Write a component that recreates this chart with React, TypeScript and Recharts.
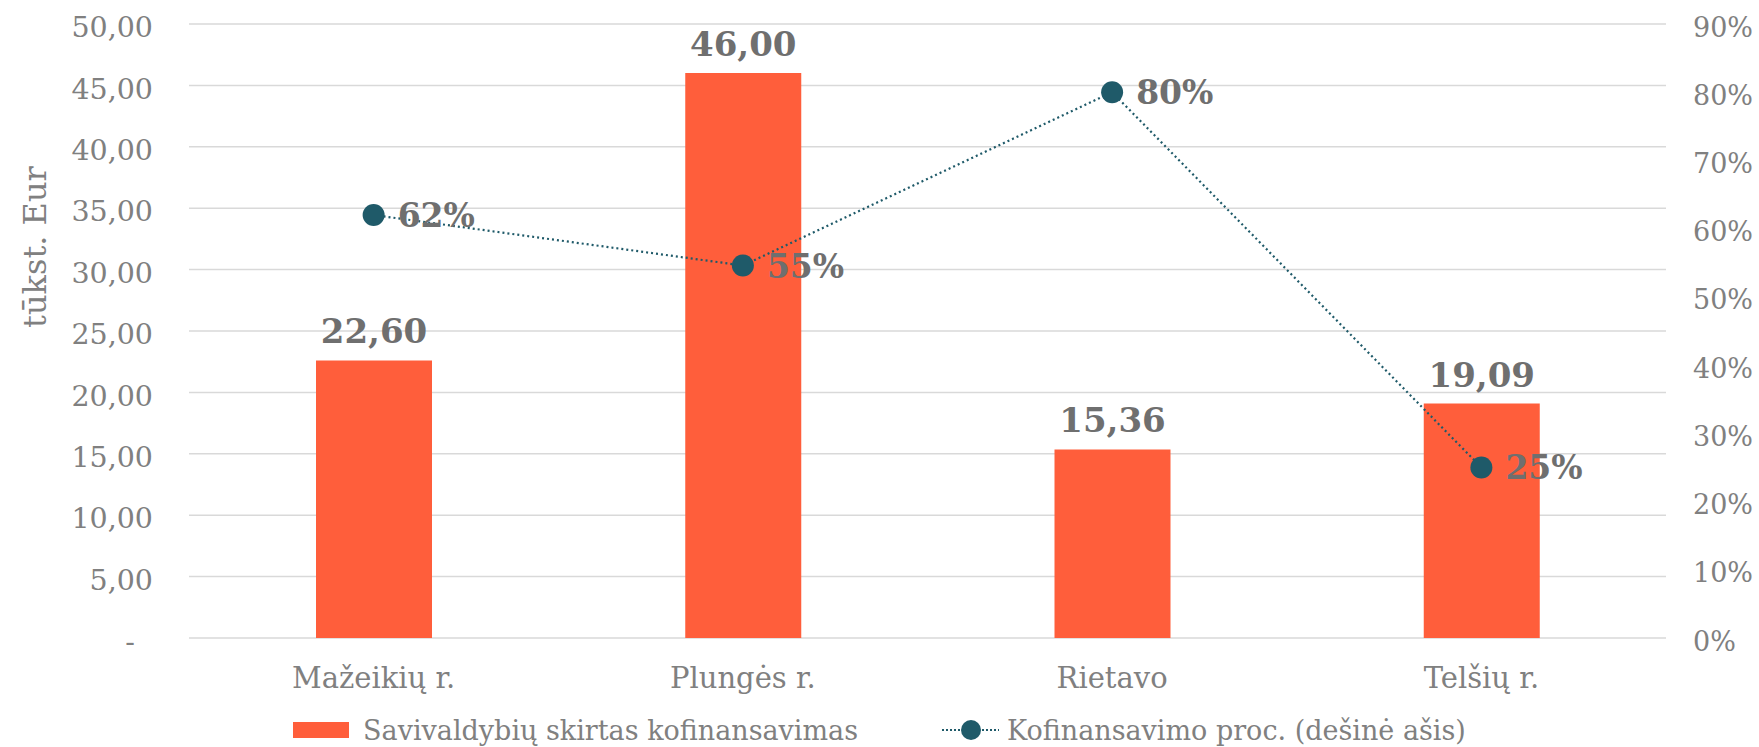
import React from 'react';
import {
  ComposedChart,
  Bar,
  Line,
  XAxis,
  YAxis,
  CartesianGrid,
  Legend,
  LabelList,
  Label,
} from 'recharts';

const categories = ['Mažeikių r.', 'Plungės r.', 'Rietavo', 'Telšių r.'];
const cofinancing = [22.6, 46.0, 15.36, 19.09];
const cofinancingPct = [0.62, 0.546, 0.8, 0.25];
const leftTicks = [0, 5, 10, 15, 20, 25, 30, 35, 40, 45, 50];
const rightTicks = [0, 0.1, 0.2, 0.3, 0.4, 0.5, 0.6, 0.7, 0.8, 0.9];
const barSeriesName = 'Savivaldybių skirtas kofinansavimas';
const lineSeriesName = 'Kofinansavimo proc. (dešinė ašis)';
const yAxisTitle = 'tūkst. Eur';

const data = categories.map((name, i) => ({
  name,
  value: cofinancing[i],
  pct: cofinancingPct[i],
}));

const FONT = "'DejaVu Serif', serif";
const AXIS_GRAY = '#808080';
const LABEL_GRAY = '#6F6F6F';
const BAR_COLOR = '#FF5E3B';
const LINE_COLOR = '#1F5A69';

const fmtNum = (v: number) => (v === 0 ? '-\u00A0\u00A0' : v.toFixed(2).replace('.', ','));
const fmtPct = (v: number) => `${Math.round(v * 100)}%`;

const renderLegend = () => (
  <div
    style={{
      display: 'flex',
      justifyContent: 'center',
      alignItems: 'center',
      height: 34,
      fontFamily: FONT,
      fontSize: 27,
      color: AXIS_GRAY,
      whiteSpace: 'nowrap',
    }}
  >
    <div style={{ display: 'flex', alignItems: 'center' }}>
      <span style={{ display: 'inline-block', width: 56, height: 16, background: BAR_COLOR }} />
      <span style={{ marginLeft: 14 }}>{barSeriesName}</span>
    </div>
    <div style={{ display: 'flex', alignItems: 'center', marginLeft: 84 }}>
      <svg width={57} height={24}>
        <line x1={0} x2={57} y1={12} y2={12} stroke={LINE_COLOR} strokeWidth={2} strokeDasharray="2 2" />
        <circle cx={29} cy={12} r={10} fill={LINE_COLOR} />
      </svg>
      <span style={{ marginLeft: 8 }}>{lineSeriesName}</span>
    </div>
  </div>
);

const LineLabel = (props: any) => {
  const { x, y, value } = props;
  if (x == null || y == null) return null;
  return (
    <text
      x={x + 24}
      y={y + 12}
      fill={LABEL_GRAY}
      fontFamily={FONT}
      fontWeight="bold"
      fontSize={33}
      textAnchor="start"
    >
      {fmtPct(value)}
    </text>
  );
};

const YTitle = (props: any) => {
  const vb = props.viewBox || { x: 0, y: 0, width: 0, height: 0 };
  const cx = vb.x + 46;
  const cy = vb.y + 223;
  return (
    <text
      transform={`translate(${cx},${cy}) rotate(-90)`}
      textAnchor="middle"
      fill={AXIS_GRAY}
      fontFamily={FONT}
      fontSize={32}
    >
      {yAxisTitle}
    </text>
  );
};

export default function App() {
  return (
    <div style={{ width: 1759, height: 747 }}>
      <style>{'body{margin:0;}'}</style>
      <ComposedChart
        width={1759}
        height={747}
        data={data}
        margin={{ top: 24, right: 0, bottom: 0, left: 0 }}
        style={{ fontFamily: FONT }}
      >
        <CartesianGrid yAxisId="left" vertical={false} stroke="#D9D9D9" strokeWidth={1.5} />
        <XAxis
          dataKey="name"
          height={75}
          axisLine={false}
          tickLine={false}
          tickSize={0}
          tickMargin={29}
          tick={{ fill: AXIS_GRAY, fontSize: 29, fontFamily: FONT }}
        />
        <YAxis
          yAxisId="left"
          orientation="left"
          width={189}
          domain={[0, 50]}
          ticks={leftTicks}
          tickFormatter={fmtNum}
          axisLine={false}
          tickLine={false}
          tickSize={0}
          tickMargin={36}
          tick={{ fill: AXIS_GRAY, fontSize: 28.5, fontFamily: FONT, dy: 3 }}
          interval={0}
        >
          <Label content={<YTitle />} />
        </YAxis>
        <YAxis
          yAxisId="right"
          orientation="right"
          width={93}
          domain={[0, 0.9]}
          ticks={rightTicks}
          tickFormatter={fmtPct}
          axisLine={false}
          tickLine={false}
          tickSize={0}
          tickMargin={27}
          tick={{ fill: AXIS_GRAY, fontSize: 27, fontFamily: FONT, dy: 3, textAnchor: 'start' }}
          interval={0}
        />
        <Legend verticalAlign="bottom" content={renderLegend} />
        <Bar
          yAxisId="left"
          dataKey="value"
          name={barSeriesName}
          fill={BAR_COLOR}
          barSize={116}
          isAnimationActive={false}
        >
          <LabelList
            dataKey="value"
            position="top"
            offset={17}
            formatter={(v: any) => fmtNum(Number(v))}
            fill={LABEL_GRAY}
            fontFamily={FONT}
            fontWeight="bold"
            fontSize={34}
          />
        </Bar>
        <Line
          yAxisId="right"
          dataKey="pct"
          name={lineSeriesName}
          stroke={LINE_COLOR}
          strokeWidth={2.2}
          strokeDasharray="2 3"
          dot={{ r: 11, fill: LINE_COLOR, stroke: 'none', strokeDasharray: '' }}
          activeDot={false}
          isAnimationActive={false}
        >
          <LabelList dataKey="pct" content={<LineLabel />} />
        </Line>
      </ComposedChart>
    </div>
  );
}
